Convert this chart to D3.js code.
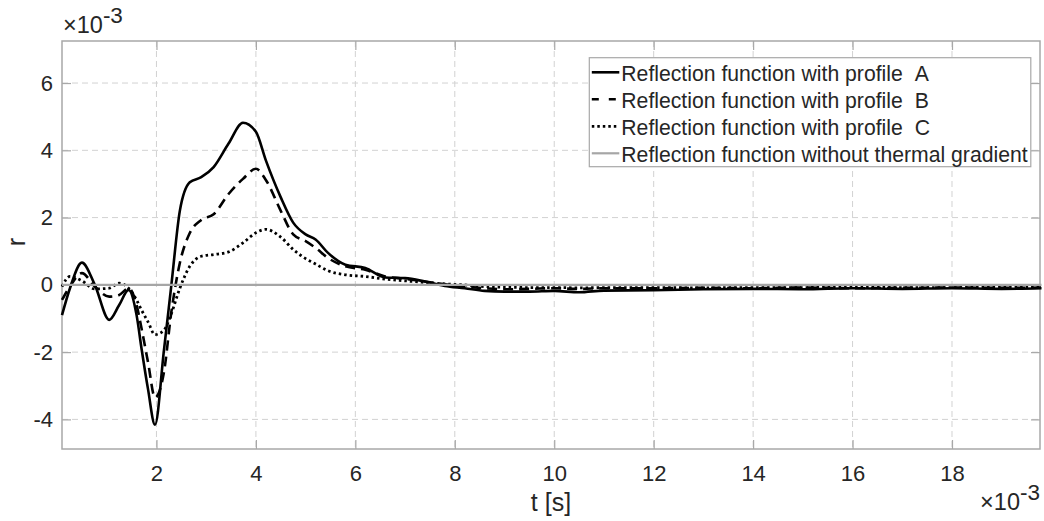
<!DOCTYPE html>
<html>
<head>
<meta charset="utf-8">
<script src="https://cdn.jsdelivr.net/npm/d3@7"></script>
<style>
  body { margin: 0; background: #fff; }
  text { font-family: Arial, "Liberation Sans", Helvetica, sans-serif; fill: #262626; }
</style>
</head>
<body>
<div class="chart"></div>
<script>
const t = [0.1, 0.26, 0.5, 0.76, 1.05, 1.25, 1.44, 1.6, 1.7, 1.83, 1.97, 2.15, 2.3, 2.47, 2.67, 2.9, 3.15, 3.45, 3.74, 4.0, 4.2, 4.5, 4.75, 5.0, 5.2, 5.45, 5.8, 6.2, 6.6, 7.0, 7.4, 7.8, 8.2, 8.6, 9.0, 9.5, 10.0, 10.5, 11, 12, 13, 14, 15, 16, 17, 18, 19, 19.8]
const rA = [-0.9, -0.1, 0.66, 0.0, -1.04, -0.6, -0.15, -0.9, -1.9, -3.1, -4.16, -1.95, 0.0, 2.2, 3.05, 3.2, 3.5, 4.2, 4.82, 4.55, 3.7, 2.6, 1.85, 1.5, 1.35, 0.95, 0.6, 0.5, 0.22, 0.2, 0.1, -0.03, -0.1, -0.18, -0.2, -0.2, -0.18, -0.22, -0.17, -0.16, -0.13, -0.12, -0.13, -0.1, -0.12, -0.1, -0.12, -0.1]
const rB = [-0.45, -0.05, 0.35, -0.05, -0.35, -0.3, -0.1, -0.6, -1.3, -2.3, -3.35, -2.6, -0.8, 0.65, 1.54, 1.93, 2.1, 2.7, 3.15, 3.45, 3.12, 2.2, 1.5, 1.3, 1.1, 0.8, 0.55, 0.45, 0.25, 0.18, 0.1, 0.02, -0.05, -0.1, -0.13, -0.12, -0.1, -0.12, -0.1, -0.1, -0.09, -0.1, -0.08, -0.1, -0.09, -0.08, -0.09, -0.08]
const rC = [-0.05, 0.25, 0.12, -0.12, -0.1, 0.05, -0.1, -0.45, -0.75, -1.1, -1.48, -1.35, -0.85, -0.1, 0.55, 0.85, 0.9, 0.98, 1.25, 1.55, 1.65, 1.42, 1.05, 0.78, 0.62, 0.42, 0.3, 0.25, 0.17, 0.12, 0.07, 0.03, 0.0, -0.05, -0.07, -0.08, -0.08, -0.09, -0.08, -0.08, -0.09, -0.08, -0.08, -0.07, -0.08, -0.08, -0.07, -0.07]
const r0 = t.map(() => 0)

const xTicks = [2, 4, 6, 8, 10, 12, 14, 16, 18]
const yTicks = [-4, -2, 0, 2, 4, 6]
const legendLabels = ['Reflection function with profile', 'Reflection function with profile', 'Reflection function with profile', 'Reflection function without thermal gradient']
const legendLetters = ['A', 'B', 'C', '']

const margin = ({top: 41, right: 4, bottom: 72, left: 62})
const width = 1044 - margin.left - margin.right,
    height = 521 - margin.top - margin.bottom

let svg = d3.select('.chart').append('svg')
    .attr('width', 1044)
    .attr('height', 521)
    .append('g')
    .attr('transform', 'translate(' + margin.left + ',' + margin.top + ')')

let x = d3.scaleLinear().domain([0.1, 19.77]).range([0, width])
let y = d3.scaleLinear().domain([-4.88, 7.25]).range([height, 0])

const gridColor = '#d2d2d2', axisColor = '#a8a8a8'
const fmt = d => d.toString()

// grid
xTicks.forEach(v => svg.append('line')
    .attr('x1', x(v)).attr('x2', x(v)).attr('y1', 0).attr('y2', height)
    .attr('stroke', gridColor).attr('stroke-dasharray', '6,4'))
yTicks.forEach(v => svg.append('line')
    .attr('x1', 0).attr('x2', width).attr('y1', y(v)).attr('y2', y(v))
    .attr('stroke', gridColor).attr('stroke-dasharray', '6,4'))

// axes with inward ticks on all sides
const tl = 9
svg.append('g').attr('transform', 'translate(0,' + height + ')')
    .call(d3.axisBottom(x).tickValues(xTicks).tickFormat(fmt).tickSizeInner(-tl).tickSizeOuter(0).tickPadding(16))
svg.append('g')
    .call(d3.axisTop(x).tickValues(xTicks).tickSizeInner(-tl).tickSizeOuter(0).tickFormat(''))
svg.append('g')
    .call(d3.axisLeft(y).tickValues(yTicks).tickFormat(fmt).tickSizeInner(-tl).tickSizeOuter(0).tickPadding(9))
svg.append('g').attr('transform', 'translate(' + width + ',0)')
    .call(d3.axisRight(y).tickValues(yTicks).tickSizeInner(-tl).tickSizeOuter(0).tickFormat(''))

svg.selectAll('.domain').remove()
svg.selectAll('.tick line').attr('stroke', axisColor).attr('stroke-width', 1.2)
svg.selectAll('.tick text').style('font-size', '22px').attr('fill', '#262626')

svg.append('rect')
    .attr('width', width).attr('height', height)
    .attr('fill', 'none').attr('stroke', axisColor).attr('stroke-width', 1.5)

// series
let line = d3.line()
    .x((d, i) => x(t[i]))
    .y(d => y(d))
    .curve(d3.curveMonotoneX)

const series = [
    {data: rA, dash: null, color: '#000', w: 2.6},
    {data: rB, dash: '10,6', color: '#000', w: 2.6},
    {data: rC, dash: '2.5,3', color: '#000', w: 2.8},
    {data: r0, dash: null, color: '#a6a6a6', w: 2.2}
]
series.forEach(s => svg.append('path')
    .datum(s.data)
    .attr('d', line)
    .attr('fill', 'none')
    .attr('stroke', s.color)
    .attr('stroke-width', s.w)
    .attr('stroke-dasharray', s.dash))

// exponents
svg.append('text').attr('x', 1).attr('y', -8).style('font-size', '23.5px')
    .html('×10<tspan dy="-10" style="font-size:22.5px">-3</tspan>')
svg.append('text').attr('x', width).attr('y', height + 61).attr('text-anchor', 'end').style('font-size', '23.5px')
    .html('×10<tspan dy="-10" style="font-size:22.5px">-3</tspan>')

// axis labels
svg.append('text').attr('x', width / 2).attr('y', height + 62).attr('text-anchor', 'middle')
    .style('font-size', '25px').text('t [s]')
svg.append('text').attr('transform', 'translate(-37,' + (height / 2 - 3) + ') rotate(-90)')
    .attr('text-anchor', 'middle').style('font-size', '25px').text('r')

// legend
const lx = 527.3, ly = 16.7, lw = 441.5, lh = 109
let legend = svg.append('g').attr('transform', 'translate(' + lx + ',' + ly + ')')
legend.append('rect').attr('width', lw).attr('height', lh)
    .attr('fill', '#fff').attr('stroke', axisColor).attr('stroke-width', 1.2)
series.forEach((s, i) => {
    const yy = 14.6 + i * 27
    legend.append('line').attr('x1', 2.5).attr('x2', 30).attr('y1', yy).attr('y2', yy)
        .attr('stroke', s.color).attr('stroke-width', s.w)
        .attr('stroke-dasharray', s.dash == '10,6' ? '7,10' : s.dash)
    let tx = legend.append('text').attr('x', 32).attr('y', yy + 9).style('font-size', '21.2px')
        .text(legendLabels[i])
    if (legendLetters[i]) tx.append('tspan').attr('dx', 12).text(legendLetters[i])
})
</script>
</body>
</html>
